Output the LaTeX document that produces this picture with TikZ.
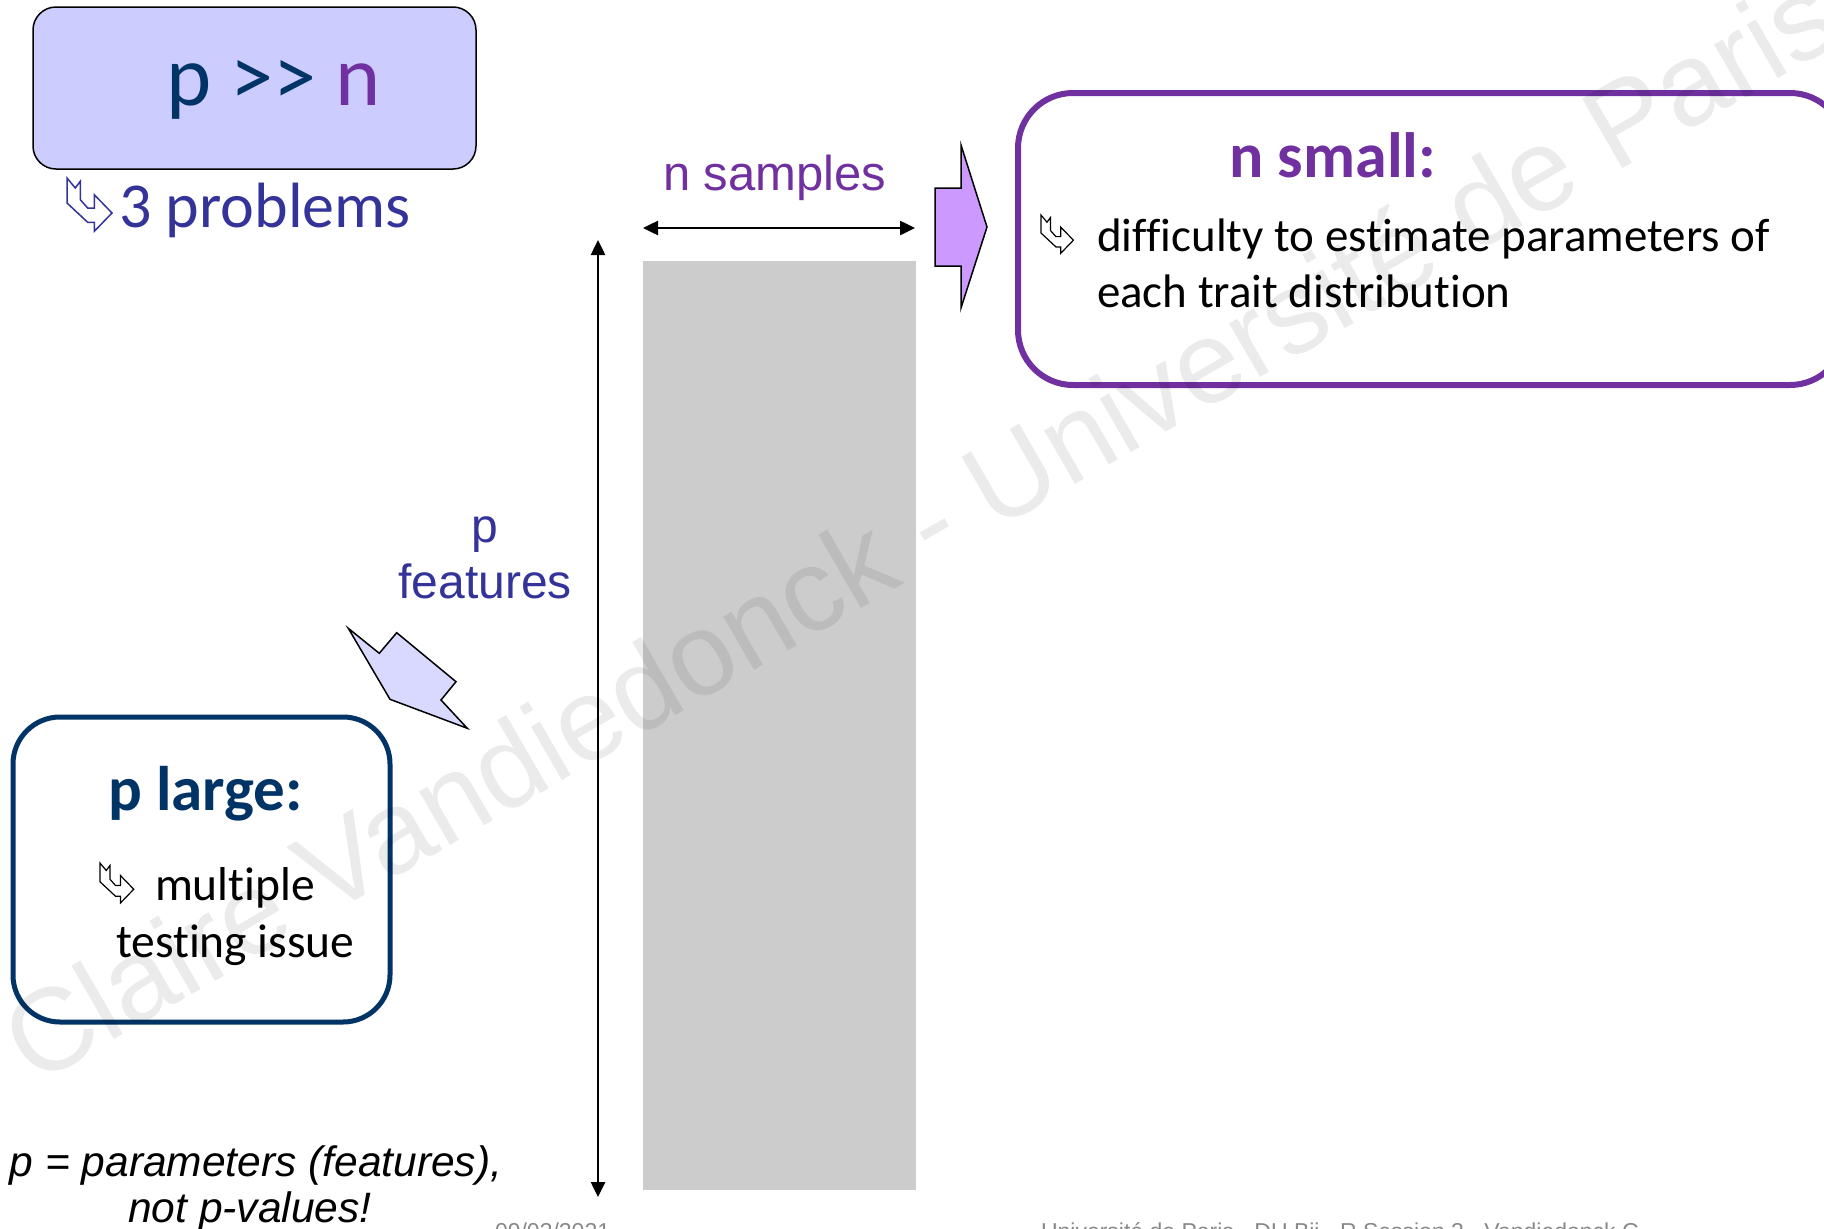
\documentclass[tikz,border=0pt]{standalone}
\usepackage{fontspec}
\setmainfont{Carlito}[Ligatures={NoCommon}]
\newfontfamily\arialf{Liberation Sans}
\usetikzlibrary{arrows.meta}
\definecolor{navy}{HTML}{003366}
\definecolor{purp}{HTML}{7030A0}
\definecolor{indig}{HTML}{333399}
\definecolor{lav}{HTML}{CCCCFF}
\definecolor{lavlight}{HTML}{D9D9FF}
\definecolor{lilac}{HTML}{CC99FF}
\definecolor{grayrect}{HTML}{CCCCCC}
\definecolor{footgray}{HTML}{898989}
\tikzset{
  txt/.style={anchor=base west, inner sep=0pt, outer sep=0pt},
  boxshape/.style={anchor=north west, inner sep=0pt, outer sep=0pt},
  dblarrow/.style={line width=2.5pt, {Triangle[length=15pt,width=14pt]}-{Triangle[length=15pt,width=14pt]}},
  blockarrow/.style={draw=black, line width=1.5pt, line join=miter},
  hookarrow/.pic={
    \draw[pic actions, line join=miter] (0,0) -- (8.3,10) -- (13.3,3.3) -- (13.3,21.7) -- (20.7,30)
      -- (27.3,30) -- (27.3,16.7) -- (45,35) -- (27.3,53.3) -- (27.3,44.3) -- (20.7,44.3) -- (0,25) -- cycle;
  }
}
\begin{document}
\begin{tikzpicture}[x=1pt,y=-1pt]
\clip (0,0) rectangle (1824,1229);
\fill[white] (0,0) rectangle (1824,1229);

% top box p >> n
\node[boxshape, fill=lav, draw=black, line width=1.5pt, rounded corners=23pt,
      minimum width=443pt, minimum height=162pt] (topbox) at (33,7) {};
\node[txt, font=\fontsize{86}{100}\selectfont] (pn) at (166,105)
  {\textcolor{navy}{p >{}> }\textcolor{purp}{n}};
\pic[draw=indig, line width=1.5pt] at (67,178) {hookarrow};
\node[txt, text=indig, font=\fontsize{64}{76}\selectfont] (probs) at (119,227) {3 problems};

% n samples
\node[txt, text=purp, font=\arialf\fontsize{49}{58}\selectfont] (nsamp) at (663,190) {n samples};
\coordinate (hl) at (643,228);
\coordinate (hr) at (915,228);
\draw[dblarrow] (hl) -- (hr);

% data rectangle
\node[boxshape, fill=grayrect, minimum width=273pt, minimum height=929pt] (data) at (643,261) {};

% vertical arrow
\coordinate (vt) at (598,240);
\coordinate (vb) at (598,1197);
\draw[dblarrow] (vt) -- (vb);

% p features
\node[anchor=base, inner sep=0pt, text=indig, font=\arialf\fontsize{48}{56}\selectfont] (plab) at (485,542) {p};
\node[anchor=base, inner sep=0pt, text=indig, font=\arialf\fontsize{48}{56}\selectfont] (feat) at (485,598) {features};

% right block arrow
\draw[blockarrow, fill=lilac] (935,188) -- (961,188) -- (961,145) -- (987,227) -- (961,308)
  -- (961,266) -- (935,266) -- cycle;

% n small box
\node[boxshape, draw=purp, line width=6pt, rounded corners=55pt,
      minimum width=827pt, minimum height=292pt] (nbox) at (1018,93) {};
\node[txt, text=purp, font=\bfseries\fontsize{64}{76}\selectfont] (nsmall) at (1229,177) {n small:};
\pic[draw=black, line width=1.2pt, scale=0.72] at (1041,215) {hookarrow};
\node[txt, font=\fontsize{47}{56}\selectfont] (diff1) at (1097,251) {difficulty to estimate parameters of};
\node[txt, font=\fontsize{47}{56}\selectfont] (diff2) at (1097,307) {each trait distribution};

% diagonal block arrow
\draw[blockarrow, fill=lavlight] (348.3,628.3) -- (379.3,653.3) -- (396.7,632.7) -- (456,681.7)
  -- (441,700) -- (467.3,728.3) -- (390,699.3) -- cycle;

% p large box
\node[boxshape, draw=navy, line width=5pt, rounded corners=47pt,
      minimum width=377pt, minimum height=305pt] (pbox) at (13,717) {};
\node[txt, text=navy, font=\bfseries\fontsize{63}{75}\selectfont] (plarge) at (108,810) {p large:};
\pic[draw=black, line width=1.2pt, scale=0.75] at (100,863) {hookarrow};
\node[txt, font=\fontsize{47.5}{56}\selectfont] (mult1) at (155,900) {multiple};
\node[txt, font=\fontsize{47.5}{56}\selectfont] (mult2) at (116,957) {testing issue};

% italic note
\node[anchor=base, inner sep=0pt, font=\arialf\itshape\fontsize{42.5}{44}\selectfont] (note1) at (256,1176) {p = parameters (features),};
\node[anchor=base, inner sep=0pt, font=\arialf\itshape\fontsize{42.5}{44}\selectfont] (note2) at (250,1222) {not p-values!};

% footer
\node[txt, text=footgray, font=\arialf\fontsize{23}{28}\selectfont] (date) at (495,1239.5) {09/03/2021};
\node[txt, text=footgray, font=\arialf\fontsize{23}{28}\selectfont] (footer) at (1041,1239.5) {Université de Paris - DU Bii - R Session 3 - Vandiedonck C.};

% watermark
\node[txt, rotate=30, text=black, text opacity=0.08, font=\arialf\fontsize{117}{140}\selectfont] (wm) at (34,1086)
  {Claire Vandiedonck - Université de Paris};
\end{tikzpicture}
\end{document}
